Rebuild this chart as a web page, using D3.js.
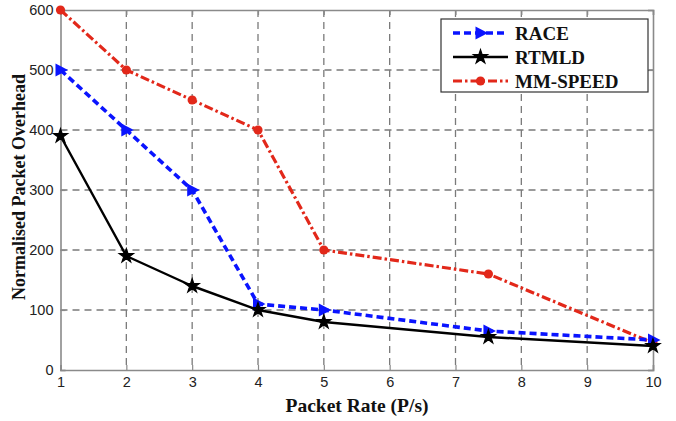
<!DOCTYPE html>
<html>
<head>
<meta charset="utf-8">
<script src="https://cdn.jsdelivr.net/npm/d3@7"></script>
<style>
  html, body { margin: 0; padding: 0; background: #fff; }
  svg { display: block; }
</style>
</head>
<body>
<svg id="chart" width="676" height="421"></svg>
<script>
// Packet rates (P/s) on the x axis
const packetRates = [1, 2, 3, 4, 5, 7.5, 10];
// Normalised packet overhead per protocol
const raceValues    = [500, 400, 300, 110, 100, 65, 50];
const rtmldValues   = [390, 190, 140, 100, 80, 55, 40];
const mmSpeedValues = [600, 500, 450, 400, 200, 160, 45];
// Axis ticks
const xTicks = [1, 2, 3, 4, 5, 6, 7, 8, 9, 10];
const yTicks = [0, 100, 200, 300, 400, 500, 600];
const seriesNames = ["RACE", "RTMLD", "MM-SPEED"];

const svg = d3.select("#chart");
const plotLeft = 60.5, plotRight = 653, plotTop = 10, plotBottom = 370;

const x = d3.scaleLinear().domain([1, 10]).range([plotLeft, plotRight]);
const y = d3.scaleLinear().domain([0, 600]).range([plotBottom, plotTop]);

const gridColor = "#7a7a7a";
const frameColor = "#8a8a8a";
const serif = "Liberation Serif, Times New Roman, serif";

// grid
const grid = svg.append("g");
grid.selectAll("line.v").data(xTicks.slice(1, -1)).join("line")
  .attr("x1", d => x(d)).attr("x2", d => x(d))
  .attr("y1", plotTop).attr("y2", plotBottom)
  .attr("stroke", gridColor).attr("stroke-width", 1.3)
  .attr("stroke-dasharray", "7,5");
grid.selectAll("line.h").data(yTicks.slice(1, -1)).join("line")
  .attr("y1", d => y(d)).attr("y2", d => y(d))
  .attr("x1", plotLeft).attr("x2", plotRight)
  .attr("stroke", gridColor).attr("stroke-width", 1.3)
  .attr("stroke-dasharray", "7,5");

// axes (box with inward ticks on all four sides)
const axisFont = "Liberation Sans, Arial, sans-serif";
const xAxis = svg.append("g").attr("transform", `translate(0,${plotBottom})`)
  .call(d3.axisBottom(x).tickValues(xTicks).tickFormat(d3.format("d")).tickSize(-5).tickPadding(7));
const yAxis = svg.append("g").attr("transform", `translate(${plotLeft},0)`)
  .call(d3.axisLeft(y).tickValues(yTicks).tickSize(-5).tickPadding(7));
const topAxis = svg.append("g").attr("transform", `translate(0,${plotTop})`)
  .call(d3.axisTop(x).tickValues(xTicks).tickSize(-5).tickFormat(""));
const rightAxis = svg.append("g").attr("transform", `translate(${plotRight},0)`)
  .call(d3.axisRight(y).tickValues(yTicks).tickSize(-5).tickFormat(""));
[xAxis, yAxis, topAxis, rightAxis].forEach(g => {
  g.select(".domain").attr("stroke", frameColor).attr("stroke-width", 1.6);
  g.selectAll(".tick line").attr("stroke", frameColor).attr("stroke-width", 1.2);
  g.selectAll("text").attr("font-family", axisFont).attr("font-size", 14.5).attr("fill", "#222");
});

// series
const line = d3.line().x(d => x(d[0])).y(d => y(d[1]));
const pairs = vals => packetRates.map((r, i) => [r, vals[i]]);

const series = [
  { name: seriesNames[0], values: raceValues, color: "#0a14ff", dash: "7,4", width: 3.6, marker: "tri" },
  { name: seriesNames[1], values: rtmldValues, color: "#000000", dash: null, width: 2.4, marker: "star" },
  { name: seriesNames[2], values: mmSpeedValues, color: "#e2281a", dash: "9,3,2.5,3", width: 3.2, marker: "dot" }
];

const triPath = "M-5,-6.5 L7.5,0 L-5,6.5 Z";
const starPath = d3.symbol().type(d3.symbolStar).size(62)();

function drawMarker(g, kind, color) {
  if (kind === "tri") {
    g.append("path").attr("d", triPath).attr("fill", color);
  } else if (kind === "star") {
    g.append("path").attr("d", starPath).attr("fill", color).attr("stroke", color).attr("stroke-width", 1.2);
  } else {
    g.append("circle").attr("r", 4.6).attr("fill", color);
  }
}

// red first, then blue, then black on top
[series[2], series[0], series[1]].forEach(s => {
  svg.append("path").datum(pairs(s.values))
    .attr("d", line).attr("fill", "none")
    .attr("stroke", s.color).attr("stroke-width", s.width)
    .attr("stroke-dasharray", s.dash).attr("stroke-linejoin", "round");
  pairs(s.values).forEach(p => {
    const g = svg.append("g").attr("transform", `translate(${x(p[0])},${y(p[1])})`);
    drawMarker(g, s.marker, s.color);
  });
});

// legend
const legend = svg.append("g");
legend.append("rect").attr("x", 441).attr("y", 19).attr("width", 207).attr("height", 73)
  .attr("fill", "#fff").attr("stroke", "#333").attr("stroke-width", 1.2);
series.forEach((s, i) => {
  const ly = 33 + i * 24;
  legend.append("line").attr("x1", 453).attr("x2", 508).attr("y1", ly).attr("y2", ly)
    .attr("stroke", s.color).attr("stroke-width", s.width)
    .attr("stroke-dasharray", s.dash);
  const g = legend.append("g").attr("transform", `translate(480.5,${ly})`);
  drawMarker(g, s.marker, s.color);
  legend.append("text").attr("x", 515).attr("y", ly + 7)
    .attr("font-family", serif)
    .attr("font-weight", "bold").attr("font-size", 19).attr("fill", "#111")
    .text(s.name);
});

// axis titles
svg.append("text").attr("x", 357).attr("y", 412).attr("text-anchor", "middle")
  .attr("font-family", serif)
  .attr("font-weight", "bold").attr("font-size", 19.5).attr("fill", "#111")
  .text("Packet Rate (P/s)");
svg.append("text").attr("transform", "translate(25,187) rotate(-90)").attr("text-anchor", "middle")
  .attr("font-family", serif)
  .attr("font-weight", "bold").attr("font-size", 18).attr("fill", "#111")
  .text("Normalised Packet Overhead");
</script>
</body>
</html>
